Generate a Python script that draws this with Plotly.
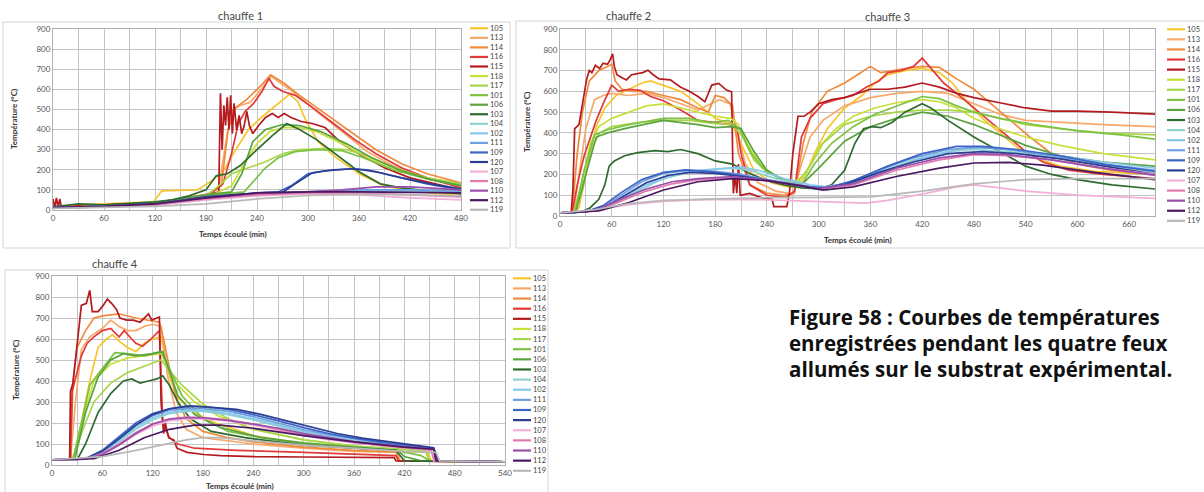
import plotly.graph_objects as go

W, H = 1204, 492

# sensor names (legend order) and colours
SENSORS = ['105', '113', '114', '116', '115', '118', '117', '101', '106', '103',
           '104', '102', '111', '109', '120', '107', '108', '110', '112', '119']
COLORS = ['#f7c52b', '#f6a96a', '#f08a3c', '#e23a3a', '#b51a1f', '#c9df3a', '#a8d64a',
          '#7cc243', '#5ba33f', '#2e6b2e', '#8fd3cf', '#86c8ea', '#6f9fe0', '#3b64c4',
          '#2c3e93', '#f2b0d6', '#e27aaf', '#9850ab', '#4a1860', '#b8b8b8']

# ---------------- chauffe 1 : [minutes, °C] ----------------
H1_105 = [[0,15],[30,25],[60,30],[100,35],[118,40],[128,95],[170,100],[185,140],[200,190],[215,300],[230,400],[245,460],[262,520],[278,575],[288,540],[298,440],[312,340],[330,270],[360,180],[390,120],[420,95],[480,70]]
H1_113 = [[0,15],[60,25],[120,35],[180,70],[195,110],[205,380],[212,500],[220,520],[232,535],[245,600],[257,665],[268,630],[285,580],[310,490],[340,390],[370,290],[400,220],[430,170],[480,120]]
H1_114 = [[0,15],[60,25],[120,35],[180,75],[198,120],[206,400],[215,510],[228,550],[245,620],[256,672],[272,630],[290,570],[320,480],[350,390],[380,300],[410,230],[440,180],[480,135]]
H1_116 = [[0,15],[60,25],[120,35],[185,80],[200,130],[210,280],[218,430],[226,490],[236,530],[246,590],[254,655],[260,615],[270,590],[285,570],[305,510],[330,430],[355,350],[380,280],[410,210],[440,160],[480,110]]
H1_115 = [[0,55],[2,10],[4,60],[6,15],[8,55],[10,10],[30,20],[60,25],[120,35],[180,70],[195,90],[197,580],[199,300],[201,520],[203,420],[205,560],[207,400],[209,570],[211,380],[213,530],[216,400],[219,470],[222,380],[225,420],[228,490],[231,420],[235,380],[242,420],[250,460],[258,480],[265,460],[272,480],[280,460],[292,440],[305,430],[320,410],[340,330],[360,280],[390,210],[420,160],[480,100]]
H1_118 = [[0,12],[60,20],[120,35],[190,80],[210,120],[225,230],[240,330],[255,390],[270,410],[290,410],[310,390],[340,330],[370,260],[400,200],[440,160],[480,130]]
H1_117 = [[0,12],[60,20],[120,35],[180,70],[195,120],[210,180],[230,210],[250,240],[270,280],[290,300],[320,305],[345,300],[370,270],[400,210],[440,160],[480,130]]
H1_101 = [[0,12],[60,20],[120,35],[180,70],[225,90],[235,140],[250,210],[265,260],[285,290],[310,300],[340,295],[365,260],[400,200],[440,155],[480,125]]
H1_106 = [[0,12],[60,20],[120,35],[180,75],[210,90],[222,180],[235,340],[250,400],[270,425],[290,420],[315,390],[345,330],[375,260],[410,195],[445,150],[480,120]]
H1_103 = [[0,15],[30,30],[60,25],[120,40],[140,50],[160,70],[180,100],[192,170],[205,180],[220,220],[240,300],[258,370],[275,430],[290,400],[310,350],[335,270],[360,190],[385,130],[410,110],[440,95],[480,80]]
H1_104 = [[0,10],[60,15],[120,25],[180,50],[240,80],[300,90],[360,95],[420,95],[480,90]]
H1_102 = [[0,10],[60,15],[120,25],[180,55],[240,80],[300,88],[360,92],[420,90],[480,88]]
H1_111 = [[0,12],[60,18],[120,30],[180,60],[240,82],[300,90],[360,100],[420,100],[480,95]]
H1_109 = [[0,12],[60,18],[120,30],[180,65],[240,85],[265,90],[280,120],[300,180],[320,195],[350,205],[370,200],[400,170],[440,130],[480,100]]
H1_120 = [[0,12],[60,18],[120,30],[180,65],[240,85],[270,88],[285,130],[305,185],[330,200],[355,205],[380,190],[410,160],[450,125],[480,105]]
H1_107 = [[0,10],[60,15],[120,25],[180,50],[240,70],[300,80],[360,75],[420,60],[480,50]]
H1_108 = [[0,10],[60,15],[120,25],[180,55],[240,75],[300,85],[360,85],[420,75],[480,65]]
H1_110 = [[0,12],[60,18],[120,30],[180,60],[240,82],[300,90],[340,100],[380,115],[420,115],[480,100]]
H1_112 = [[0,12],[60,18],[120,30],[180,60],[240,85],[300,90],[360,90],[420,88],[480,85]]
H1_119 = [[0,8],[60,12],[120,18],[180,30],[240,55],[300,72],[360,78],[420,75],[480,70]]

# ---------------- chauffes 2 et 3 ----------------
H2_105 = [[0,15],[15,15],[22,40],[32,250],[42,430],[52,520],[65,580],[80,610],[95,640],[105,650],[120,630],[140,600],[160,540],[180,470],[200,440],[212,330],[225,220],[245,160],[265,140],[275,140],[285,200],[295,300],[310,420],[330,520],[350,580],[365,640],[380,680],[400,700],[420,710],[440,690],[455,640],[470,560],[490,470],[510,400],[530,330],[550,280],[580,240],[620,215],[690,200]]
H2_113 = [[0,15],[16,15],[22,200],[30,420],[40,560],[50,580],[60,590],[80,580],[100,590],[120,570],[140,540],[160,510],[175,540],[185,560],[197,540],[205,420],[215,250],[230,160],[250,120],[270,105],[280,250],[290,380],[305,460],[330,530],[360,570],[390,590],[420,600],[450,590],[480,540],[510,490],[540,460],[580,450],[630,440],[690,430]]
H2_114 = [[0,15],[14,15],[20,300],[26,500],[34,650],[45,700],[55,720],[60,730],[64,650],[72,610],[85,600],[100,600],[120,580],[140,560],[160,520],[172,500],[180,580],[190,570],[200,530],[207,300],[220,150],[240,110],[260,100],[272,110],[282,350],[292,500],[310,600],[330,640],[345,680],[360,720],[372,690],[385,700],[400,710],[420,720],[440,715],[460,660],[480,610],[500,540],[520,470],[545,380],[570,300],[600,250],[640,220],[690,200]]
H2_116 = [[0,15],[14,15],[20,150],[28,290],[42,460],[50,540],[60,630],[68,600],[80,610],[93,605],[105,575],[120,555],[140,510],[160,460],[180,450],[197,440],[205,430],[210,300],[220,150],[240,100],[262,90],[272,120],[280,380],[290,470],[305,540],[320,560],[340,580],[355,620],[370,650],[380,690],[395,700],[410,720],[420,760],[432,700],[445,640],[460,590],[480,520],[500,450],[520,380],[540,310],[560,260],[590,220],[630,200],[690,180]]
H2_115 = [[0,15],[13,15],[15,130],[17,420],[22,440],[27,560],[31,660],[34,700],[37,690],[41,725],[46,710],[50,735],[55,730],[58,750],[61,780],[63,720],[66,680],[72,665],[77,655],[83,680],[90,685],[96,690],[102,702],[108,680],[115,660],[128,655],[140,620],[150,600],[160,575],[168,550],[176,630],[184,638],[193,606],[199,598],[201,109],[203,200],[205,110],[207,250],[209,100],[220,109],[236,85],[246,80],[248,45],[263,45],[266,109],[270,300],[276,480],[283,480],[290,500],[300,540],[315,560],[330,570],[345,590],[360,610],[380,610],[400,620],[420,640],[440,620],[460,590],[480,570],[510,545],[540,520],[570,505],[600,505],[640,500],[690,490]]
H2_118 = [[0,15],[16,15],[25,150],[35,350],[45,430],[60,470],[80,500],[100,530],[120,540],[140,520],[160,500],[180,480],[198,470],[207,440],[218,340],[232,250],[250,190],[270,160],[285,200],[300,330],[320,420],[340,480],[365,520],[390,545],[420,560],[440,550],[460,520],[480,470],[510,420],[540,380],[580,340],[630,300],[690,270]]
H2_117 = [[0,15],[16,15],[26,120],[36,320],[46,400],[60,430],[90,450],[120,460],[150,460],[180,445],[200,440],[212,380],[225,270],[240,210],[260,175],[275,160],[290,240],[305,350],[330,440],[360,480],[390,500],[420,510],[450,510],[480,500],[510,470],[540,440],[580,420],[630,400],[690,390]]
H2_101 = [[0,15],[17,15],[28,220],[40,390],[55,415],[80,440],[120,470],[150,470],[175,450],[195,460],[208,420],[222,300],[238,220],[258,175],[280,150],[295,250],[315,350],[340,430],[365,490],[390,530],[420,575],[440,565],[460,530],[480,500],[510,470],[550,440],[600,410],[650,390],[690,370]]
H2_106 = [[0,15],[18,15],[30,200],[42,380],[55,400],[80,425],[120,460],[160,440],[180,425],[200,430],[210,420],[225,310],[240,220],[260,170],[280,150],[300,230],[330,360],[360,430],[390,470],[420,500],[450,480],[480,440],[510,390],[540,340],[580,290],[630,260],[690,240]]
H2_103 = [[0,15],[25,20],[35,40],[45,80],[52,150],[57,240],[63,265],[75,290],[90,305],[110,315],[125,310],[140,320],[160,300],[180,265],[200,250],[220,205],[240,170],[260,150],[280,135],[300,130],[315,150],[330,220],[342,350],[352,420],[362,430],[372,425],[385,450],[400,500],[420,540],[430,520],[450,460],[480,380],[510,310],[540,240],[570,200],[600,175],[640,150],[690,130]]
H2_104 = [[0,15],[30,20],[50,35],[70,70],[95,130],[120,180],[150,210],[180,225],[200,230],[220,220],[250,180],[280,150],[300,135],[330,150],[370,210],[410,270],[450,310],[480,320],[520,310],[560,290],[620,250],[690,210]]
H2_102 = [[0,15],[30,20],[50,40],[70,80],[100,150],[130,195],[160,220],[190,230],[210,235],[230,220],[260,180],[290,150],[310,140],[340,160],[380,220],[420,280],[460,320],[490,330],[530,315],[580,290],[630,260],[690,230]]
H2_111 = [[0,15],[30,20],[50,45],[70,100],[95,165],[120,205],[150,220],[180,215],[210,200],[240,175],[270,150],[300,135],[330,155],[370,220],[410,280],[450,320],[480,330],[520,320],[570,290],[630,250],[690,220]]
H2_109 = [[0,15],[30,20],[50,50],[70,110],[95,175],[120,210],[145,222],[170,215],[200,200],[230,180],[260,160],[290,140],[310,135],[340,170],[380,240],[420,300],[460,335],[490,335],[530,320],[580,290],[630,250],[690,215]]
H2_120 = [[0,15],[30,20],[55,50],[75,100],[100,160],[125,195],[150,210],[180,205],[210,190],[240,170],[270,150],[300,130],[330,150],[370,210],[410,260],[450,300],[490,310],[530,300],[580,275],[630,240],[690,200]]
H2_107 = [[0,15],[40,30],[80,55],[120,70],[160,78],[200,80],[240,78],[280,72],[320,65],[355,62],[380,75],[420,105],[460,140],[480,150],[510,135],[540,120],[600,100],[690,85]]
H2_108 = [[0,15],[40,25],[70,70],[100,120],[130,155],[160,175],[200,185],[240,170],[280,145],[300,130],[340,150],[390,220],[440,270],[480,295],[520,290],[570,270],[630,230],[690,200]]
H2_110 = [[0,15],[40,25],[70,80],[100,130],[130,165],[160,180],[200,190],[240,172],[280,145],[300,132],[340,155],[390,230],[440,280],[480,300],[520,295],[570,270],[630,230],[690,195]]
H2_112 = [[0,15],[45,25],[80,65],[120,125],[160,165],[200,180],[240,170],[280,145],[305,125],[340,140],[390,190],[440,230],[480,255],[520,258],[560,245],[620,210],[690,175]]
H2_119 = [[0,15],[40,30],[80,60],[120,75],[180,82],[240,88],[300,90],[360,92],[420,120],[480,155],[540,175],[600,180],[690,180]]

# ---------------- chauffe 4 ----------------
H3_105 = [[0,25],[22,25],[28,60],[35,200],[45,400],[55,560],[65,600],[72,620],[80,590],[90,560],[100,540],[110,580],[120,600],[130,610],[138,450],[148,330],[165,260],[195,200],[240,140],[300,100],[360,80],[420,65],[448,60],[452,20],[540,15]]
H3_113 = [[0,25],[22,25],[28,300],[35,550],[45,610],[60,650],[70,690],[80,660],[90,640],[100,640],[110,660],[120,670],[130,660],[138,420],[148,250],[160,170],[180,130],[240,100],[300,80],[360,65],[412,60],[415,20],[540,15]]
H3_114 = [[0,25],[22,25],[25,400],[30,560],[40,640],[50,700],[60,710],[80,720],[100,700],[115,690],[128,680],[133,600],[140,460],[150,300],[160,220],[180,160],[210,130],[240,110],[300,85],[360,70],[410,62],[414,20],[540,15]]
H3_116 = [[0,25],[22,25],[24,350],[30,450],[35,520],[42,580],[50,610],[60,640],[70,650],[80,610],[86,640],[95,600],[100,580],[108,565],[118,600],[128,640],[132,200],[140,130],[150,100],[170,80],[220,70],[300,60],[360,50],[410,45],[413,20],[540,15]]
H3_115 = [[0,25],[21,25],[22,350],[25,390],[29,540],[35,760],[41,770],[45,832],[48,730],[55,730],[61,760],[66,790],[71,770],[77,740],[81,700],[89,690],[97,690],[105,680],[115,720],[119,690],[125,700],[128,705],[130,300],[133,150],[135,200],[139,130],[145,120],[149,80],[161,60],[181,50],[201,45],[241,40],[300,38],[360,35],[408,35],[410,20],[540,15]]
H3_118 = [[0,25],[25,25],[35,200],[50,400],[70,480],[90,510],[110,520],[130,530],[140,450],[150,380],[170,300],[200,230],[240,170],[300,120],[360,90],[420,72],[445,68],[450,20],[540,15]]
H3_117 = [[0,25],[25,25],[35,150],[50,300],[70,390],[90,440],[110,470],[130,500],[140,450],[155,380],[180,290],[210,220],[240,170],[300,120],[360,90],[420,72],[445,68],[450,20],[540,15]]
H3_101 = [[0,25],[25,25],[35,200],[45,380],[60,460],[75,535],[90,530],[110,520],[130,540],[140,460],[155,330],[180,220],[210,160],[250,130],[300,100],[360,80],[410,70],[440,45],[450,20],[540,15]]
H3_106 = [[0,25],[27,25],[40,250],[55,420],[70,500],[85,530],[100,520],[120,530],[132,540],[140,450],[150,330],[170,240],[200,180],[250,130],[300,105],[360,85],[412,70],[420,40],[440,20],[540,15]]
H3_103 = [[0,25],[30,25],[40,100],[55,250],[70,340],[85,400],[95,410],[105,390],[115,400],[125,410],[132,425],[140,380],[150,300],[165,220],[190,160],[230,130],[300,95],[360,80],[410,70],[420,20],[540,15]]
H3_104 = [[0,25],[40,28],[60,55],[80,110],[100,170],[120,215],[140,245],[160,255],[180,255],[210,240],[240,215],[270,185],[300,155],[330,135],[360,115],[400,95],[440,80],[455,75],[458,20],[540,15]]
H3_102 = [[0,25],[40,28],[60,60],[80,115],[100,180],[120,225],[140,250],[160,262],[180,260],[210,245],[240,220],[270,190],[300,160],[330,138],[360,118],[400,98],[440,82],[455,76],[458,20],[540,15]]
H3_111 = [[0,25],[40,30],[60,65],[80,125],[100,190],[120,235],[140,260],[160,270],[180,268],[210,255],[240,230],[270,200],[300,168],[330,145],[360,125],[400,100],[440,85],[455,78],[460,20],[540,15]]
H3_109 = [[0,25],[40,30],[60,70],[80,135],[100,200],[120,245],[140,268],[160,280],[180,278],[210,265],[240,240],[270,210],[300,178],[330,150],[360,128],[400,105],[440,88],[455,80],[460,20],[540,15]]
H3_120 = [[0,25],[40,30],[60,65],[80,125],[100,190],[120,240],[140,268],[165,280],[190,275],[220,265],[250,240],[280,210],[310,178],[340,150],[370,128],[410,105],[440,90],[455,82],[460,20],[540,15]]
H3_107 = [[0,25],[40,28],[60,50],[80,95],[100,145],[120,185],[140,210],[160,220],[180,220],[210,210],[240,190],[270,165],[300,140],[330,120],[360,105],[400,88],[440,75],[452,70],[455,20],[540,15]]
H3_108 = [[0,25],[40,28],[60,55],[80,100],[100,155],[120,195],[140,220],[160,228],[180,226],[210,215],[240,195],[270,170],[300,145],[330,125],[360,108],[400,90],[440,78],[452,72],[456,20],[540,15]]
H3_110 = [[0,25],[40,28],[60,50],[80,95],[100,150],[120,195],[140,218],[160,225],[180,225],[210,212],[240,195],[270,175],[300,150],[330,130],[360,112],[400,95],[440,82],[455,75],[458,20],[540,15]]
H3_112 = [[0,25],[50,30],[80,70],[110,130],[140,170],[170,190],[200,190],[240,175],[300,140],[360,110],[420,85],[455,75],[458,20],[540,15]]
H3_119 = [[0,25],[60,40],[100,70],[130,95],[160,120],[180,130],[200,130],[240,115],[300,95],[360,80],[420,65],[458,60],[462,20],[540,15]]

CH1 = [H1_105, H1_113, H1_114, H1_116, H1_115, H1_118, H1_117, H1_101, H1_106, H1_103,
       H1_104, H1_102, H1_111, H1_109, H1_120, H1_107, H1_108, H1_110, H1_112, H1_119]
CH23 = [H2_105, H2_113, H2_114, H2_116, H2_115, H2_118, H2_117, H2_101, H2_106, H2_103,
        H2_104, H2_102, H2_111, H2_109, H2_120, H2_107, H2_108, H2_110, H2_112, H2_119]
CH4 = [H3_105, H3_113, H3_114, H3_116, H3_115, H3_118, H3_117, H3_101, H3_106, H3_103,
       H3_104, H3_102, H3_111, H3_109, H3_120, H3_107, H3_108, H3_110, H3_112, H3_119]


def px(x):
    return x / W


def py(y):
    return 1 - y / H


fig = go.Figure()

# panels: data, axis suffix, x max, plot box in pixels (left, top, right, bottom)
panels = [
    (CH1, '', 480, (53, 29, 461, 210)),
    (CH23, '2', 690, (560, 29, 1155, 216)),
    (CH4, '3', 540, (52, 276, 505, 465)),
]

font_fam = 'Lato, DejaVu Sans, sans-serif'
grid = '#c4c4c4'

for data, sfx, xmax, (l, t, r, b) in panels:
    for name, col, pts in zip(SENSORS, COLORS, data):
        fig.add_trace(go.Scatter(
            x=[p[0] for p in pts], y=[p[1] for p in pts], name=name, mode='lines',
            line=dict(color=col, width=1.7), xaxis='x' + sfx, yaxis='y' + sfx,
            showlegend=False, hoverinfo='skip'))
    ax = dict(showline=True, mirror=True, linecolor='#b0b0b0', linewidth=1,
              showgrid=True, gridcolor=grid, gridwidth=1, zeroline=False, automargin=False,
              ticks='', tickfont=dict(family=font_fam, size=8, color='#555'))
    fig.layout['xaxis' + sfx] = dict(ax, domain=[px(l), px(r)], range=[0, xmax], dtick=60,
                                     tick0=0, anchor='y' + sfx,
                                     minor=dict(dtick=30, showgrid=True, gridcolor=grid))
    fig.layout['yaxis' + sfx] = dict(ax, domain=[py(b), py(t)], range=[0, 900], dtick=100,
                                     anchor='x' + sfx)

ann = []
shapes = []


def label(txt, x, y, size, color='#444', xanchor='center', angle=0, family=font_fam):
    ann.append(dict(text=txt, x=px(x), y=py(y), xref='paper', yref='paper', showarrow=False,
                    xanchor=xanchor, yanchor='middle', textangle=angle, borderpad=0,
                    font=dict(family=family, size=size, color=color)))


# chart area boxes
for x0, y0, x1, y1 in [(3, 22, 510, 248), (516, 21, 1210, 248), (5, 270, 548, 500)]:
    shapes.append(dict(type='rect', xref='paper', yref='paper', x0=px(x0), x1=px(x1),
                       y0=py(y1), y1=py(y0), line=dict(color='#d4d4d4', width=1)))

# panel titles
for txt, x, y in [('chauffe 1', 240, 15), ('chauffe 2', 628, 16), ('chauffe 3', 888, 17),
                  ('chauffe 4', 115, 263)]:
    label(txt, x, y, 11)

# axis titles
for x, y in [(14, 119), (527, 122), (16, 370)]:
    label('<b>Température (°C)</b>', x, y, 8, '#333', angle=-90)
for x, y in [(233, 234), (858, 240), (240, 486)]:
    label('<b>Temps écoulé (min)</b>', x, y, 8, '#333')

# legends (drawn by hand so the rows stay as tight as in the source)
for lx, ly, step in [(470, 28.3, 9.55), (1167, 29.3, 10.08), (513, 278.3, 10.13)]:
    for i, (name, col) in enumerate(zip(SENSORS, COLORS)):
        yy = ly + i * step
        shapes.append(dict(type='line', xref='paper', yref='paper', x0=px(lx), x1=px(lx + 18),
                           y0=py(yy), y1=py(yy), line=dict(color=col, width=2.2)))
        label(name, lx + 18.5, yy, 7.5, xanchor='left')

# caption
for txt, y in [('Figure 58 : Courbes de températures', 317),
               ('enregistrées pendant les quatre feux', 343),
               ('allumés sur le substrat expérimental.', 369)]:
    label('<b>' + txt + '</b>', 788, y, 20.5, '#111', xanchor='left',
          family='Open Sans, sans-serif')

fig.update_layout(width=W, height=H, margin=dict(l=0, r=0, t=0, b=0, pad=0),
                  paper_bgcolor='white', plot_bgcolor='white',
                  annotations=ann, shapes=shapes)

# the page's default body margin would push the 1204x492 figure off the window
fig.write_html('out.html', config={'displayModeBar': False},
               post_script="document.body.style.margin='0';")
